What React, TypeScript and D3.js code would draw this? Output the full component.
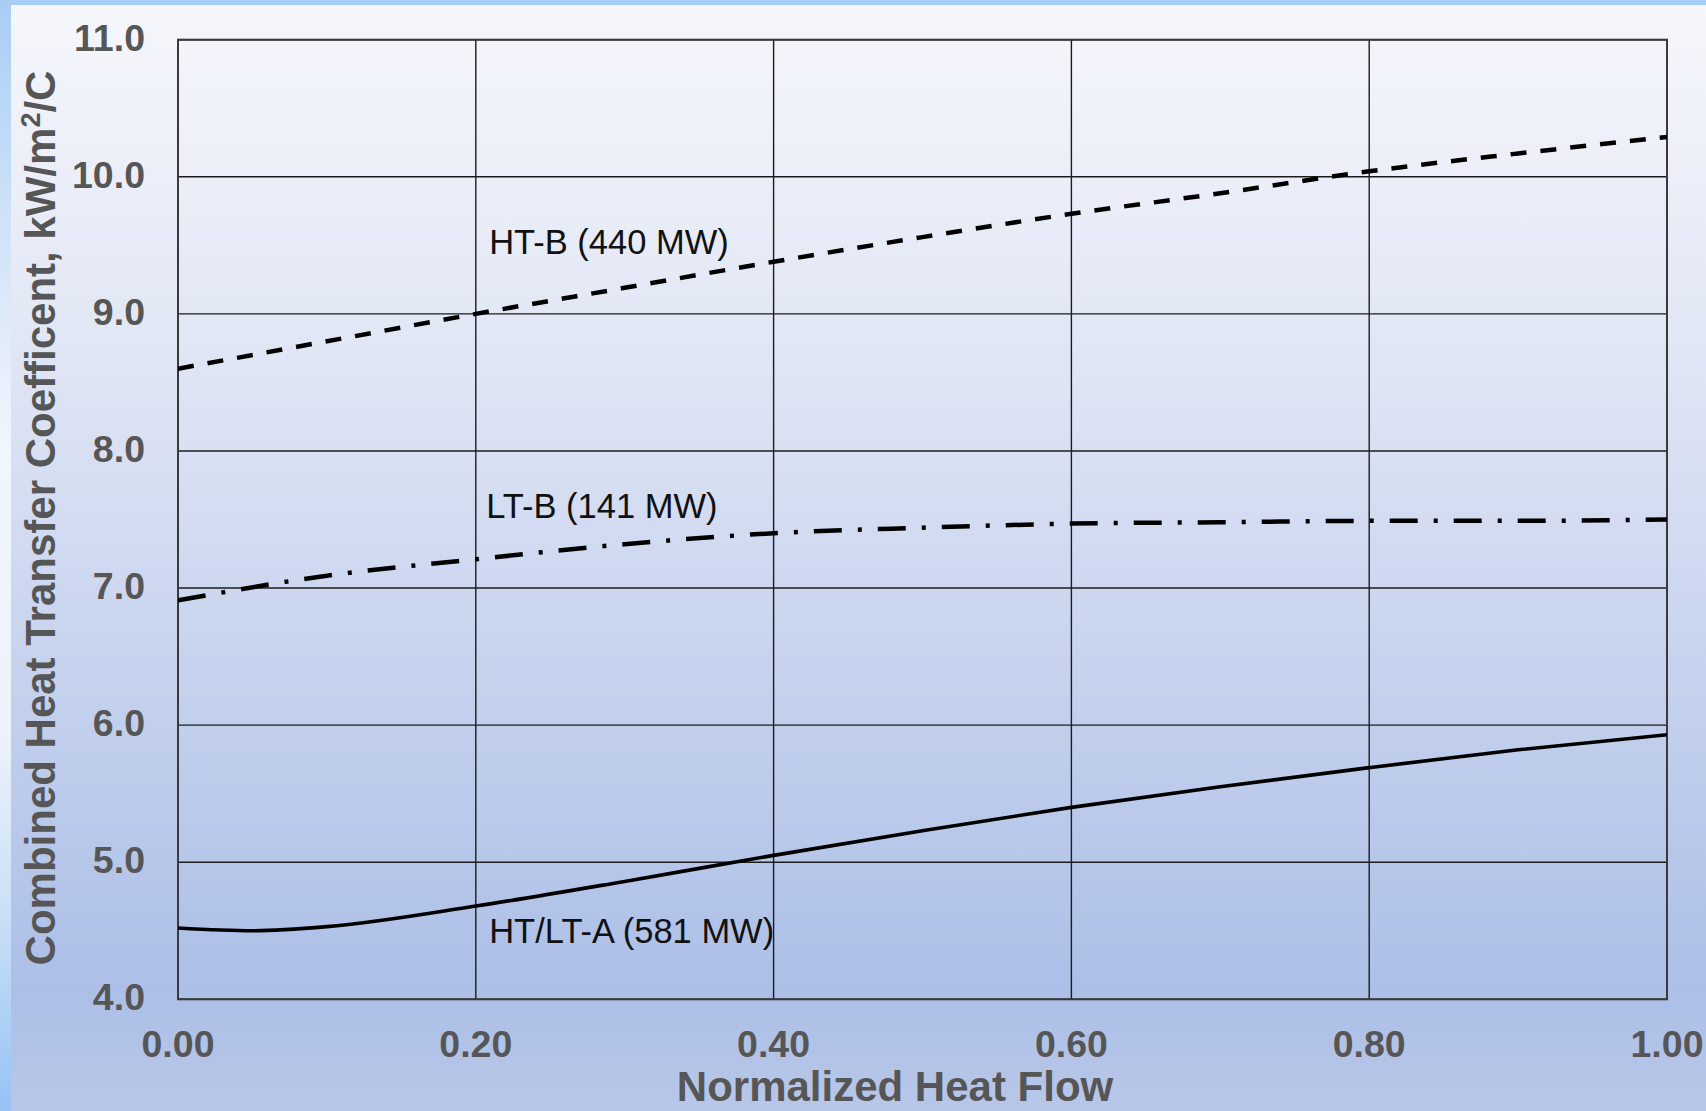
import React from "react";
import * as d3 from "d3";

const xTicks = [0, 0.2, 0.4, 0.6, 0.8, 1.0];
const xTickLabels = ["0.00", "0.20", "0.40", "0.60", "0.80", "1.00"];
const yTicks = [4, 5, 6, 7, 8, 9, 10, 11];
const yTickLabels = ["4.0", "5.0", "6.0", "7.0", "8.0", "9.0", "10.0", "11.0"];

const htbX = [0, 0.1, 0.2, 0.3, 0.4, 0.5, 0.6, 0.7, 0.8, 0.9, 1.0];
const htbY = [8.6, 8.8, 9.0, 9.19, 9.38, 9.56, 9.73, 9.88, 10.04, 10.17, 10.29];

const ltbX = [0, 0.1, 0.2, 0.3, 0.4, 0.5, 0.6, 0.7, 0.8, 0.9, 1.0];
const ltbY = [6.91, 7.09, 7.21, 7.32, 7.4, 7.44, 7.47, 7.48, 7.49, 7.49, 7.5];

const htlX = [0, 0.05, 0.1, 0.2, 0.3, 0.4, 0.5, 0.6, 0.7, 0.8, 0.9, 1.0];
const htlY = [4.52, 4.5, 4.53, 4.68, 4.86, 5.05, 5.23, 5.4, 5.55, 5.69, 5.82, 5.93];

const seriesLabels = ["HT-B (440 MW)", "LT-B (141 MW)", "HT/LT-A (581 MW)"];
const labelX = [0.209, 0.207, 0.209];
const labelY = [9.44, 7.51, 4.41];

const W = 1706;
const H = 1111;
const M = { left: 178, right: 1667, top: 39.7, bottom: 999.3 };

export default function App() {
  const x = d3.scaleLinear().domain([0, 1]).range([M.left, M.right]);
  const y = d3.scaleLinear().domain([4, 11]).range([M.bottom, M.top]);
  const line = d3
    .line<[number, number]>()
    .x((d) => x(d[0]))
    .y((d) => y(d[1]))
    .curve(d3.curveMonotoneX);

  const zip = (a: number[], b: number[]) => a.map((v, i) => [v, b[i]] as [number, number]);
  const font = "'Liberation Sans', Arial, Helvetica, sans-serif";
  const textCol = "#565656";

  return (
    <svg width={W} height={H} style={{ position: "absolute", left: 0, top: 0 }}>
      <defs>
        <linearGradient id="bg" x1="0" y1="0" x2="0" y2="1">
          <stop offset="0" stopColor="#f6f7fc" />
          <stop offset="0.3" stopColor="#e2e7f5" />
          <stop offset="0.89" stopColor="#acbfe7" />
          <stop offset="1" stopColor="#b8c7e8" />
        </linearGradient>
        <linearGradient id="strip" x1="0" y1="0" x2="0" y2="1">
          <stop offset="0" stopColor="#a8cdf5" />
          <stop offset="0.2" stopColor="#cfe2f8" />
          <stop offset="0.4" stopColor="#f1f5fc" />
          <stop offset="0.65" stopColor="#eef3fb" />
          <stop offset="0.82" stopColor="#cbe0f8" />
          <stop offset="1" stopColor="#96c3f3" />
        </linearGradient>
        <clipPath id="plotclip">
          <rect x={M.left} y={M.top} width={M.right - M.left} height={M.bottom - M.top} />
        </clipPath>
      </defs>
      <rect x={0} y={0} width={W} height={H} fill="url(#bg)" />
      <rect x={0} y={0} width={11} height={H} fill="url(#strip)" />
      <rect x={0} y={0} width={W} height={5} fill="#a8cdf5" />

      {xTicks.map((t, i) => (
        <line key={"gx" + i} x1={x(t)} x2={x(t)} y1={M.top} y2={M.bottom} stroke="#1c1c1c" strokeWidth={1.4} />
      ))}
      {yTicks.map((t, i) => (
        <line key={"gy" + i} x1={M.left} x2={M.right} y1={y(t)} y2={y(t)} stroke="#1c1c1c" strokeWidth={1.4} />
      ))}
      <rect
        x={M.left}
        y={M.top}
        width={M.right - M.left}
        height={M.bottom - M.top}
        fill="none"
        stroke="#3a3a3a"
        strokeWidth={2}
      />

      <g clipPath="url(#plotclip)" fill="none" stroke="#000">
        <path d={line(zip(htbX, htbY)) || ""} strokeWidth={4.5} strokeDasharray="16 14" />
        <path d={line(zip(ltbX, ltbY)) || ""} strokeWidth={4.5} strokeDasharray="28 16 4 16" />
        <path d={line(zip(htlX, htlY)) || ""} strokeWidth={3.6} />
      </g>

      {seriesLabels.map((s, i) => (
        <text key={"l" + i} x={x(labelX[i])} y={y(labelY[i])} fontFamily={font} fontSize={34.5} fill="#111">
          {s}
        </text>
      ))}

      {yTicks.map((t, i) => (
        <text
          key={"yl" + i}
          x={145}
          y={y(t) + 11}
          textAnchor="end"
          fontFamily={font}
          fontWeight="bold"
          fontSize={37.5}
          fill={textCol}
        >
          {yTickLabels[i]}
        </text>
      ))}
      {xTicks.map((t, i) => (
        <text
          key={"xl" + i}
          x={x(t)}
          y={1057}
          textAnchor="middle"
          fontFamily={font}
          fontWeight="bold"
          fontSize={37.5}
          fill={textCol}
        >
          {xTickLabels[i]}
        </text>
      ))}

      <text x={895} y={1101} textAnchor="middle" fontFamily={font} fontWeight="bold" fontSize={42} fill={textCol}>
        Normalized Heat Flow
      </text>
      <text
        transform="translate(55, 518) rotate(-90)"
        textAnchor="middle"
        fontFamily={font}
        fontWeight="bold"
        fontSize={42}
        fill={textCol}
      >
        Combined Heat Transfer Coefficent, kW/m
        <tspan fontSize={27} dy={-15}>
          2
        </tspan>
        <tspan dy={15}>/C</tspan>
      </text>
    </svg>
  );
}
